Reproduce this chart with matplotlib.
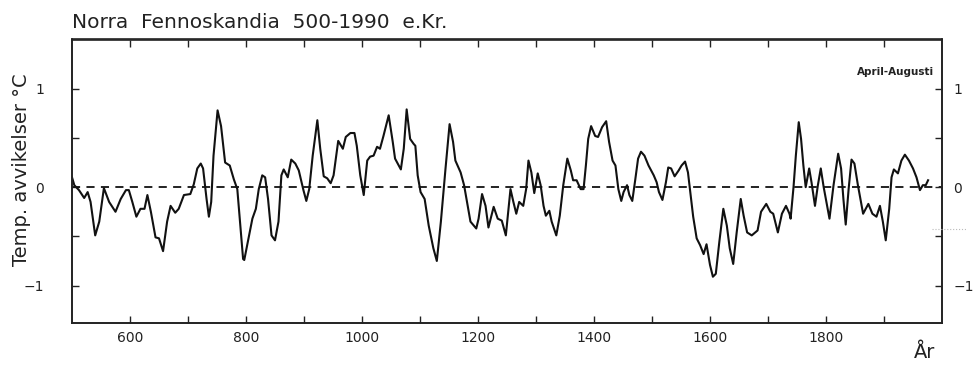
import matplotlib
matplotlib.use("Agg")
import matplotlib.pyplot as plt
from matplotlib.lines import Line2D

years = [500, 504, 512, 521, 527, 532, 540, 547, 555, 564, 575, 584, 593, 598, 604, 611, 618, 625, 630, 636,
         644, 650, 657, 664, 670, 678, 684, 693, 704, 710, 716, 722, 726, 732, 736, 740, 744, 751, 757, 764,
         772, 779, 785, 795, 797, 802, 811, 817, 822, 828, 833, 838, 844, 850, 856, 861, 865, 872, 878, 885,
         891, 899, 904, 909, 915, 923, 928, 934, 940, 946, 951, 959, 963, 967, 972, 980, 987, 991, 997, 1003,
         1009, 1014, 1020, 1026, 1031, 1037, 1046, 1053, 1057, 1067, 1072, 1077, 1083, 1089, 1092, 1096, 1101, 1108, 1115, 1123,
         1129, 1136, 1144, 1151, 1157, 1161, 1170, 1176, 1181, 1187, 1197, 1201, 1207, 1213, 1218, 1227, 1234, 1241, 1248, 1256,
         1261, 1266, 1271, 1278, 1283, 1287, 1292, 1297, 1303, 1308, 1313, 1317, 1323, 1327, 1335, 1341, 1347, 1354, 1360, 1364,
         1370, 1377, 1382, 1386, 1390, 1395, 1402, 1407, 1414, 1421, 1426, 1432, 1437, 1442, 1447, 1451, 1457, 1461, 1466, 1471,
         1476, 1481, 1487, 1494, 1503, 1508, 1512, 1518, 1524, 1528, 1533, 1539, 1546, 1551, 1557, 1562, 1566, 1571, 1577, 1583,
         1589, 1594, 1600, 1605, 1610, 1616, 1623, 1629, 1634, 1640, 1646, 1653, 1658, 1664, 1672, 1682, 1688, 1697, 1704, 1709,
         1717, 1724, 1731, 1737, 1739, 1744, 1748, 1753, 1757, 1761, 1765, 1771, 1775, 1781, 1786, 1791, 1796, 1806, 1813, 1821,
         1826, 1830, 1834, 1839, 1844, 1849, 1855, 1864, 1873, 1880, 1887, 1893, 1898, 1903, 1909, 1913, 1917, 1924, 1930, 1936,
         1943, 1950, 1956, 1962, 1967, 1972, 1976]

temps = [0.10, 0.02, -0.03, -0.11, -0.05, -0.15, -0.49, -0.35, -0.01, -0.15, -0.25, -0.12, -0.03, -0.03, -0.15, -0.30, -0.22, -0.22, -0.08, -0.25,
         -0.51, -0.52, -0.65, -0.35, -0.19, -0.26, -0.22, -0.08, -0.07, 0.03, 0.19, 0.24, 0.19, -0.12, -0.30, -0.15, 0.32, 0.78, 0.62, 0.25,
         0.22, 0.08, -0.02, -0.73, -0.74, -0.59, -0.32, -0.22, -0.02, 0.12, 0.10, -0.12, -0.49, -0.54, -0.35, 0.12, 0.18, 0.10, 0.28, 0.24,
         0.17, -0.03, -0.14, -0.02, 0.32, 0.68, 0.39, 0.11, 0.09, 0.04, 0.12, 0.47, 0.43, 0.39, 0.51, 0.55, 0.55, 0.42, 0.12, -0.08,
         0.27, 0.31, 0.32, 0.41, 0.39, 0.52, 0.73, 0.46, 0.29, 0.18, 0.39, 0.79, 0.49, 0.44, 0.42, 0.12, -0.05, -0.12, -0.39, -0.62,
         -0.75, -0.35, 0.19, 0.64, 0.46, 0.27, 0.15, 0.02, -0.15, -0.35, -0.42, -0.32, -0.07, -0.19, -0.41, -0.20, -0.32, -0.34, -0.49, -0.02,
         -0.15, -0.27, -0.15, -0.19, -0.02, 0.27, 0.15, -0.06, 0.14, 0.02, -0.19, -0.29, -0.24, -0.35, -0.49, -0.29, 0.02, 0.29, 0.17, 0.07,
         0.07, -0.02, -0.02, 0.22, 0.49, 0.62, 0.52, 0.51, 0.61, 0.67, 0.46, 0.27, 0.22, -0.02, -0.14, -0.05, 0.02, -0.08, -0.14, 0.07,
         0.29, 0.36, 0.32, 0.22, 0.12, 0.05, -0.05, -0.13, 0.05, 0.20, 0.19, 0.11, 0.17, 0.22, 0.26, 0.15, -0.05, -0.30, -0.52, -0.59,
         -0.68, -0.58, -0.79, -0.91, -0.88, -0.56, -0.22, -0.39, -0.62, -0.78, -0.46, -0.12, -0.29, -0.46, -0.49, -0.44, -0.25, -0.17, -0.25, -0.27,
         -0.46, -0.27, -0.19, -0.27, -0.32, 0.00, 0.32, 0.66, 0.49, 0.22, 0.00, 0.19, 0.05, -0.19, 0.02, 0.19, 0.00, -0.32, 0.02, 0.34,
         0.19, -0.12, -0.38, -0.02, 0.28, 0.24, 0.02, -0.27, -0.17, -0.27, -0.30, -0.19, -0.35, -0.54, -0.22, 0.10, 0.18, 0.14, 0.27, 0.33,
         0.27, 0.19, 0.10, -0.03, 0.02, 0.02, 0.07]

x_ticks_major = [600, 800, 1000, 1200, 1400, 1600, 1800]
x_ticks_minor = [700, 900, 1100, 1300, 1500, 1700, 1900]
y_ticks = [-1, 0, 1]
y_tick_labels = ['\u22121', '0', '1']
y_ticks_minor = [-0.5, 0.5]

plt.rcParams['font.family'] = ['DejaVu Sans']

fig = plt.figure(figsize=(9.74, 3.70), dpi=100)
ax = fig.add_axes([72/974, 1-323/370, (942-72)/974, (323-39.5)/370])

ax.plot(years, temps, color='#111111', lw=1.5, solid_joinstyle='round')
ax.axhline(0, color='#111111', lw=1.3, ls=(0, (4.5, 3.5)))

ax.set_xlim(500, 2000)
ax.set_ylim(-1.38, 1.50)

ax.set_xticks(x_ticks_major)
ax.set_xticks(x_ticks_minor, minor=True)
ax.set_yticks(y_ticks)
ax.set_yticks(y_ticks_minor, minor=True)
ax.set_yticklabels(y_tick_labels)

ax.tick_params(axis='both', which='both', direction='in', color='#222222', width=1.0,
               top=True, right=False, labelsize=10, labelcolor='#222222', length=5)
ax.tick_params(axis='x', which='major', pad=6)
ax.tick_params(axis='y', which='major', pad=20)

ax2 = ax.twinx()
ax2.set_ylim(ax.get_ylim())
ax2.set_yticks(y_ticks)
ax2.set_yticks(y_ticks_minor, minor=True)
ax2.set_yticklabels(y_tick_labels)
ax2.tick_params(axis='y', which='both', direction='in', color='#222222', width=1.0, length=5,
                labelsize=10, labelcolor='#222222')
ax2.tick_params(axis='y', which='major', pad=8)

for a in (ax, ax2):
    for s in a.spines.values():
        s.set_linewidth(1.2)
        s.set_color('#222222')

fig.text(72/974, 1-28/370, 'Norra  Fennoskandia  500-1990  e.Kr.', fontsize=14.5,
         color='#222222', ha='left', va='baseline')
fig.text(22/974, 1-170/370, 'Temp. avvikelser \u00b0C', fontsize=14, rotation=90,
         color='#222222', ha='center', va='center')
fig.text(925/974, 1-353/370, '\u00c5r', fontsize=14, color='#222222', ha='center', va='center')
fig.text(934/974, 1-72/370, 'April-Augusti', fontsize=7.5, fontweight='bold',
         color='#222222', ha='right', va='center')

fig.add_artist(Line2D([932/974, 966/974], [1-229/370, 1-229/370], color='#bbbbbb', lw=0.8, ls=':'))

fig.savefig('out.png', dpi=100, facecolor='white')
